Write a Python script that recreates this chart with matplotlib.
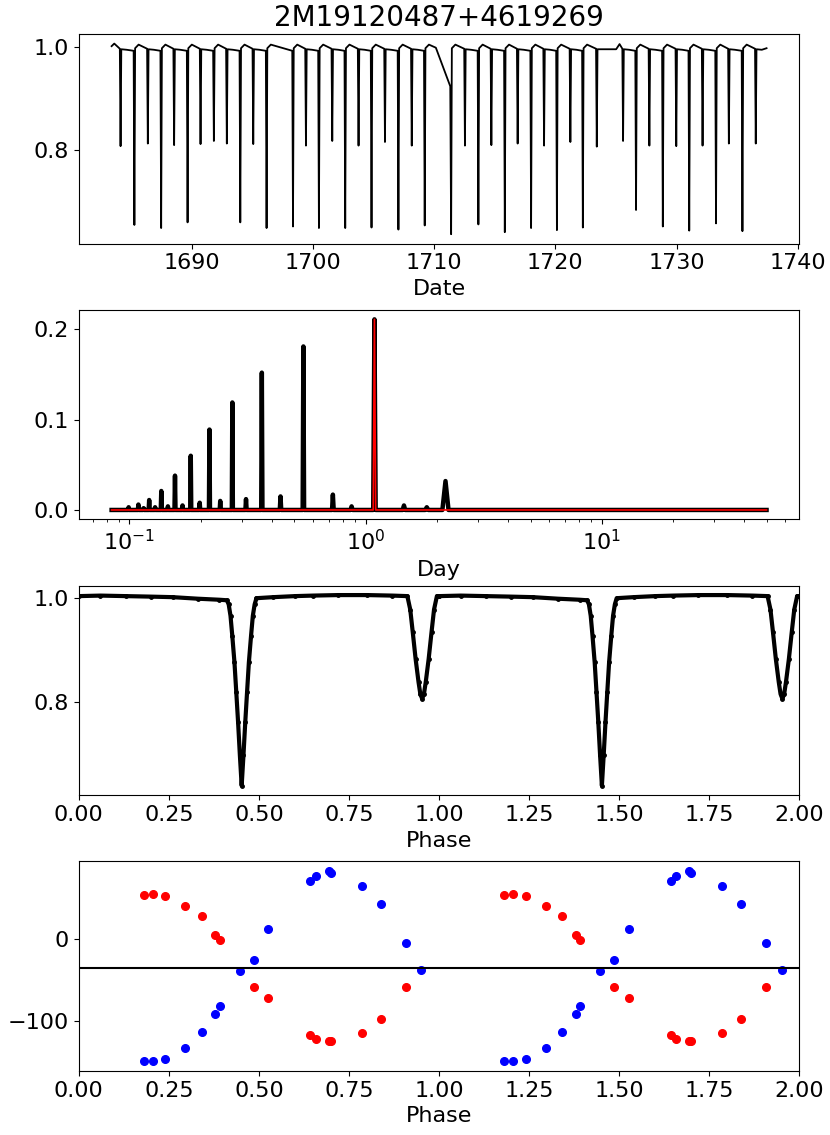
import matplotlib
matplotlib.use('Agg')
import matplotlib.pyplot as plt
import numpy as np

star = '2M19120487+4619269'

# light curve: eclipse times (day) and minimum flux
prim_t = [1685.26, 1687.47, 1689.65, 1691.82, 1694.00, 1696.17, 1698.35, 1700.49,
          1702.66, 1704.83, 1707.05, 1709.22, 1711.40, 1713.65, 1715.83, 1718.00,
          1720.13, 1722.27, 1726.66, 1728.87, 1731.05, 1733.26, 1735.44]
prim_f = [0.655, 0.649, 0.660, 0.818, 0.660, 0.649, 0.652, 0.649,
          0.649, 0.650, 0.646, 0.654, 0.637, 0.656, 0.641, 0.649,
          0.645, 0.650, 0.684, 0.652, 0.644, 0.658, 0.643]
sec_t = [1684.12, 1686.37, 1688.54, 1690.72, 1692.89, 1695.07, 1699.42, 1701.59,
         1703.76, 1705.94, 1708.15, 1712.54, 1714.72, 1716.89, 1719.07, 1721.24,
         1723.42, 1725.59, 1727.76, 1729.98, 1732.15, 1734.32, 1736.54]
sec_f = [0.808, 0.813, 0.810, 0.812, 0.813, 0.812, 0.809, 0.818,
         0.809, 0.816, 0.809, 0.809, 0.810, 0.813, 0.809, 0.816,
         0.807, 0.818, 0.809, 0.808, 0.809, 0.813, 0.813]
# out-of-eclipse levels around each eclipse (offset in days, flux)
prim_off = [-0.06, 0.06, 0.35]
prim_lvl = [0.993, 0.998, 1.005]
sec_off = [-0.06, 0.06, 0.50]
sec_lvl = [0.997, 0.996, 0.995]
# gaps in the time series and the points that bound them
gaps = [(1710.14, 1711.35), (1723.49, 1725.35)]
extra_t = [1683.38, 1683.60, 1710.14, 1711.33, 1723.49, 1725.02, 1725.30, 1737.43]
extra_f = [1.002, 1.007, 0.999, 0.924, 0.996, 0.996, 1.006, 0.998]

# periodogram peaks (period in days, power, relative half width)
pk_per = [0.0992, 0.1091, 0.1148, 0.1212, 0.1284, 0.1364, 0.1455, 0.1559, 0.1678,
          0.1818, 0.1984, 0.2182, 0.2424, 0.2728, 0.3117, 0.3637, 0.4364, 0.5455,
          0.7273, 0.873, 1.091, 1.455, 1.818, 2.182]
pk_pow = [0.003, 0.006, 0.002, 0.011, 0.003, 0.021, 0.004, 0.038, 0.005,
          0.060, 0.008, 0.089, 0.010, 0.119, 0.012, 0.152, 0.015, 0.181,
          0.017, 0.004, 0.211, 0.005, 0.003, 0.032]
pk_wid = [0.005, 0.005, 0.005, 0.005, 0.005, 0.005, 0.005, 0.005, 0.005,
          0.005, 0.005, 0.005, 0.005, 0.005, 0.006, 0.006, 0.007, 0.007,
          0.008, 0.010, 0.012, 0.012, 0.015, 0.030]
per_range = [0.084, 50.0]
best_per, best_pow, best_wid = 1.091, 0.211, 0.012

# phase-folded light curve (one cycle)
ph = [0.000, 0.060, 0.130, 0.200, 0.260, 0.330, 0.390,
      0.411, 0.416, 0.421, 0.426, 0.432, 0.437, 0.442, 0.447, 0.452,
      0.457, 0.462, 0.467, 0.472, 0.478, 0.483, 0.488, 0.493,
      0.540, 0.600, 0.650, 0.720, 0.800, 0.870,
      0.912, 0.920, 0.927, 0.935, 0.943, 0.948, 0.953,
      0.958, 0.963, 0.971, 0.979, 0.986, 0.994, 1.000]
ph_flux = [1.004, 1.005, 1.004, 1.003, 1.002, 0.999, 0.997,
           0.996, 0.988, 0.966, 0.927, 0.876, 0.819, 0.761, 0.697, 0.638,
           0.697, 0.761, 0.819, 0.876, 0.927, 0.966, 0.988, 1.000,
           1.002, 1.004, 1.005, 1.006, 1.006, 1.005,
           1.004, 0.978, 0.934, 0.882, 0.838, 0.815, 0.806,
           0.815, 0.838, 0.882, 0.934, 0.978, 1.004, 1.004]

# radial velocities (km/s)
rv_ph = [0.181, 0.205, 0.240, 0.296, 0.342, 0.379, 0.391, 0.447, 0.486, 0.526,
         0.643, 0.658, 0.694, 0.700, 0.786, 0.839, 0.907, 0.951]
rv_a = [53.1, 54.3, 52.3, 40.1, 27.6, 4.5, -1.6, None, -59.1, -72.0,
        -117.4, -121.9, -124.3, -124.3, -114.6, -98.0, -58.7, None]
rv_b = [-149.8, -149.0, -147.4, -132.8, -113.8, -91.9, -81.8, -38.9, -25.9, 12.2,
        71.0, 76.6, 83.1, 81.0, 64.0, 42.5, -5.2, -38.4]
gamma = -35.2

# build the time series
pts = []
for t, f in zip(prim_t, prim_f):
    pts.append((t, f))
    for o, l in zip(prim_off, prim_lvl):
        pts.append((t + o, l))
for t, f in zip(sec_t, sec_f):
    pts.append((t, f))
    for o, l in zip(sec_off, sec_lvl):
        pts.append((t + o, l))
pts = [p for p in pts if not any(a < p[0] < b for a, b in gaps)]
pts = [p for p in pts if extra_t[0] <= p[0] <= extra_t[-1]]
pts += list(zip(extra_t, extra_f))
pts.sort()
time = np.array([p[0] for p in pts])
flux = np.array([p[1] for p in pts])

# build the periodogram curve
vx = [per_range[0], per_range[1]]
vy = [0.0, 0.0]
for p, h, w in zip(pk_per, pk_pow, pk_wid):
    vx += [p * (1 - w), p, p * (1 + w)]
    vy += [0.0, h, 0.0]
order = np.argsort(vx)
per = np.array(vx)[order]
pw = np.array(vy)[order]
red_x = [per_range[0], best_per * (1 - best_wid), best_per, best_per * (1 + best_wid), per_range[1]]
red_y = [0.0, 0.0, best_pow, 0.0, 0.0]

plt.rcParams['font.size'] = 16
fig, axs = plt.subplots(4, 1, figsize=(8.3, 11.35), dpi=100)
fig.subplots_adjust(left=0.095, right=0.963, top=0.970, bottom=0.0564, hspace=0.315)

ax = axs[0]
ax.plot(time, flux, color='k', lw=1.3)
ax.set_title(star, fontsize=20)
ax.set_xlabel('Date')
ax.set_xticks([1690, 1700, 1710, 1720, 1730, 1740])
ax.set_yticks([0.8, 1.0])

ax = axs[1]
ax.plot(per, pw, color='k', lw=3.2)
ax.plot(red_x, red_y, color='r', lw=1.2)
ax.set_xscale('log')
ax.set_xlabel('Day')
ax.set_yticks([0.0, 0.1, 0.2])

ax = axs[2]
ph2 = np.concatenate([np.array(ph), np.array(ph) + 1])
fl2 = np.concatenate([ph_flux, ph_flux])
ax.plot(ph2, fl2, color='k', lw=3.0, marker='.', ms=5)
ax.set_xlim(0, 2)
ax.set_xlabel('Phase')
ax.set_xticks([0, 0.25, 0.5, 0.75, 1.0, 1.25, 1.5, 1.75, 2.0])
ax.set_yticks([0.8, 1.0])

ax = axs[3]
pa = [p for p, v in zip(rv_ph, rv_a) if v is not None]
va = [v for v in rv_a if v is not None]
for k in (0, 1):
    ax.plot(np.array(pa) + k, va, 'o', color='r', ms=5.5)
for k in (0, 1):
    ax.plot(np.array(rv_ph) + k, rv_b, 'o', color='b', ms=5.5)
ax.axhline(gamma, color='k', lw=1.5)
ax.set_xlim(0, 2)
ax.set_xlabel('Phase')
ax.set_xticks([0, 0.25, 0.5, 0.75, 1.0, 1.25, 1.5, 1.75, 2.0])
ax.set_yticks([0, -100])

plt.savefig('out.png', dpi=100)
